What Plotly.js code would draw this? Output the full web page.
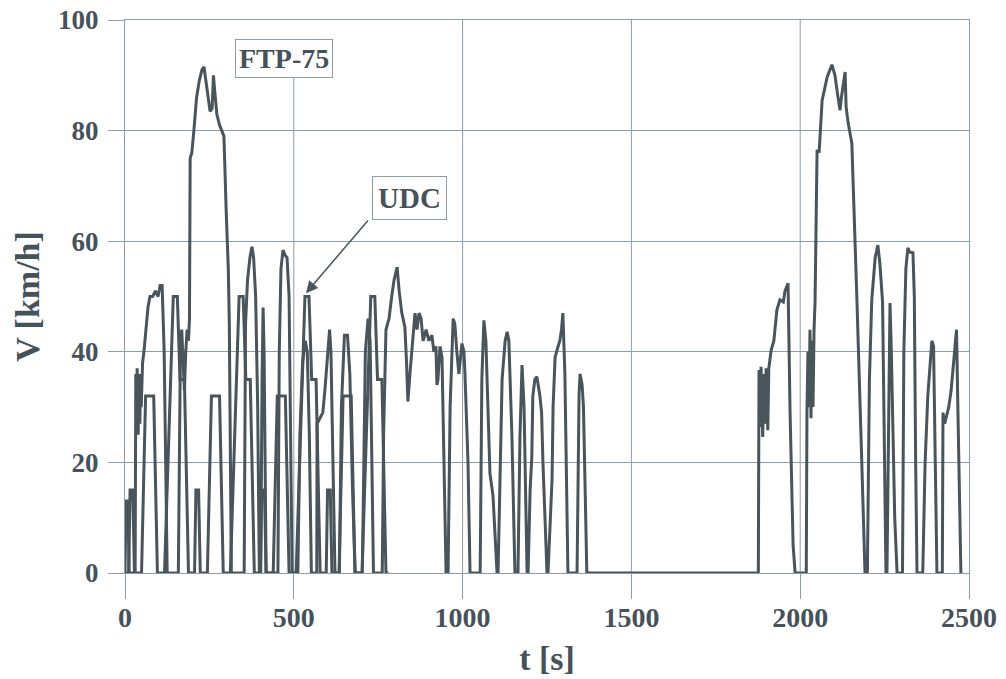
<!DOCTYPE html>
<html>
<head>
<meta charset="utf-8">
<script src="https://cdn.plot.ly/plotly-3.0.1.min.js"></script>
<style>
html,body{margin:0;padding:0;background:#ffffff;}
#chart{width:1006px;height:679px;}
</style>
</head>
<body>
<div id="chart"></div>
<script>
// FTP-75 speed trace (time in s, speed in km/h)
const ftpTime = [
  0,3,9,12,
  30,32,34,36,39,42,44,46,48,52,56,62,68,74,82,90,98,104,110,116,122,125,
  158,161,164,168,172,176,180,184,188,191,193,198,204,212,220,228,234,240,246,252,258,262,266,272,280,293,300,306,309,315,
  353,357,363,370,376,381,387,393,398,
  402,406,409,412,418,
  453,457,462,468,474,480,486,491,495,
  512,518,526,534,540,546,552,
  568,569,578,586,592,598,606,610,616,622,
  635,641,650,659,666,674,682,
  703,712,720,726,732,736,
  762,766,773,782,790,797,806,812,820,829,834,838,844,850,859,865,871,877,883,892,900,909,915,921,924,927,933,939,945,951,
  957,963,972,977,983,989,998,1004,1007,1016,1022,
  1052,1057,1063,1069,1075,1081,1090,1096,1102,
  1105,1111,1117,1126,1132,1137,1146,1155,
  1164,1170,1176,1182,1191,
  1194,1200,1205,1208,1214,1220,1229,1234,1238,1250,
  1253,1259,1265,1268,1274,1283,1288,1293,1297,1303,1312,
  1339,1342,1345,1348,1354,1358,1368,
  1876,1878,1881,1884,1889,1893,1896,1899,1904,1907,1914,1922,1931,1940,1950,1955,1964,1967,1970,1979,1985,
  2018,2020,2023,2026,2029,2032,2035,2038,2041,2044,2050,2056,2065,2080,2094,2103,2112,2118,2122,2127,2133,2136,2142,2153,2162,2168,2180,2192,
  2199,2205,2212,2222,2230,2236,2244,2250,2254,
  2257,2263,2266,2270,2280,2287,
  2303,2307,2313,2319,2325,2334,2338,2342,2346,
  2363,2370,2378,2385,2390,2395,2398,2405,
  2421,2423,2428,2434,2440,2447,2452,2457,2463,2467,2472,2476,2480
];
const ftpSpeed = [
  0,13,13,0,
  0,36,27,37,25,36,27,36,30,38,40,44,48,50,50,51,50,52,52,40,10,0,
  0,30,40,44,38,33,40,44,42,46,75,76,80,86,89,91,91.5,89,86,83.5,84,90,87,83,81,79,65,55,45,0,
  0,45,53,57,59,57,50,30,0,
  0,35,48,40,0,
  0,40,55,58.4,57.5,57,50,25,0,
  0,25,38,42,40,25,0,
  0,27,28,29,33,38,44,40,20,0,
  0,30,43,43,36,15,0,
  0,40,46,42,20,0,
  0,25,44,46,50,53,55.3,51,47,44.5,38,31,36,40,47,44,47,46,42,44,42,43,40,41,34,35,41,39,20,0,
  0,30,46,45,40,36,41.5,40,36,20,0,
  0,35,45.7,42,30,18,14,8,0,
  0,20,35,42,43.6,42,25,0,
  0,25,37.6,30,0,
  0,15,21,32,35,35.5,32,29,20,0,
  0,10,17,30,39,41,42,44,47,36,0,
  0,25,32.5,36,34,30,0,
  0,36.7,26.4,37.3,24.6,36,27,37,25.8,37,40.3,42,47.6,49.4,49,51,52.4,40,29,5,0,
  0,29,40,30,44,28,42,30,44,49,76.5,76,85.5,89.7,91.9,90,86,83.7,86,88,90.6,84.3,81.4,77.7,61.5,49.4,25,0,
  0,35,49.4,57,59.3,56,49,20,0,
  0,40,48.8,40,10,0,
  0,40,55,58.8,58,57.9,50,20,0,
  0,20,32,39,42,41,30,0,
  0,29,27,28.5,30,33,36.7,41,44,30,10,0,0
];

// UDC (ECE-15, four repetitions) speed trace
const udcTime = [
  0,11,15,23,28,49,61,85,96,117,143,155,163,176,188,
  195,206,210,218,223,244,256,280,291,312,338,350,358,371,383,
  390,401,405,413,418,439,451,475,486,507,533,545,553,566,578,
  585,596,600,608,613,634,646,670,681,702,728,740,748,761,773,780
];
const udcSpeed = [
  0,0,15,15,0,0,32,32,0,0,50,50,35,35,0,
  0,0,15,15,0,0,32,32,0,0,50,50,35,35,0,
  0,0,15,15,0,0,32,32,0,0,50,50,35,35,0,
  0,0,15,15,0,0,32,32,0,0,50,50,35,35,0,0
];

const xTickVals = [0,500,1000,1500,2000,2500];
const yTickVals = [0,20,40,60,80,100];

const lineColor = '#4a545b';
const gridColor = '#8d9cab';
const textColor = '#46525a';
const fontFam = '"Liberation Serif", "Times New Roman", serif';

const traces = [
  {x: udcTime, y: udcSpeed, type:'scatter', mode:'lines', line:{color:lineColor, width:3}, hoverinfo:'skip', showlegend:false},
  {x: ftpTime, y: ftpSpeed, type:'scatter', mode:'lines', line:{color:lineColor, width:3}, hoverinfo:'skip', showlegend:false}
];

const vGrid = [
  {x:1000, top:100}, {x:1500, top:100}, {x:2000, top:100}, {x:500, top:90}
];

const layout = {
  width:1006, height:679,
  margin:{l:125, r:37, t:20, b:106, pad:0},
  paper_bgcolor:'#ffffff', plot_bgcolor:'#ffffff',
  font:{family:fontFam, color:textColor},
  showlegend:false,
  xaxis:{
    range:[0,2500], tickvals:xTickVals, ticktext:xTickVals.map(String),
    showgrid:false, zeroline:false,
    showline:true, linecolor:gridColor, linewidth:1, mirror:true,
    ticks:'outside', ticklen:25, tickcolor:gridColor, tickwidth:1,
    ticklabelstandoff:-6,
    tickfont:{family:fontFam, size:28, color:textColor, weight:700},
    title:{text:'t [s]', font:{family:fontFam, size:34, color:textColor, weight:700}, standoff:14},
    automargin:false, fixedrange:true
  },
  yaxis:{
    range:[0,100], tickvals:yTickVals, ticktext:yTickVals.map(String),
    showgrid:true, gridcolor:gridColor, gridwidth:1, zeroline:false,
    showline:true, linecolor:gridColor, linewidth:1, mirror:true,
    ticks:'outside', ticklen:16, tickcolor:gridColor, tickwidth:1,
    ticklabelstandoff:4,
    tickfont:{family:fontFam, size:27, color:textColor, weight:700},
    title:{text:'V [km/h]', font:{family:fontFam, size:34, color:textColor, weight:700}, standoff:8},
    automargin:false, fixedrange:true
  },
  shapes: vGrid.map(g => ({type:'line', xref:'x', yref:'y', x0:g.x, x1:g.x, y0:0, y1:g.top,
                            line:{color:gridColor, width:1}, layer:'below'})),
  annotations:[
    {x:471, y:93, xref:'x', yref:'y', text:'FTP-75', showarrow:false,
     font:{family:fontFam, size:28, color:textColor, weight:700},
     bgcolor:'#ffffff', bordercolor:gridColor, borderwidth:1, borderpad:3},
    {x:844, y:67.9, xref:'x', yref:'y', text:'UDC', showarrow:false,
     font:{family:fontFam, size:29, color:textColor, weight:700},
     bgcolor:'#ffffff', bordercolor:gridColor, borderwidth:1, borderpad:5},
    {x:536, y:50.6, xref:'x', yref:'y', text:' ', showarrow:true,
     ax:64, ay:-75, arrowhead:2, arrowsize:1.6, arrowwidth:1.5, arrowcolor:lineColor,
     font:{size:2}}
  ]
};

Plotly.newPlot('chart', traces, layout, {staticPlot:true, displayModeBar:false});
</script>
</body>
</html>
